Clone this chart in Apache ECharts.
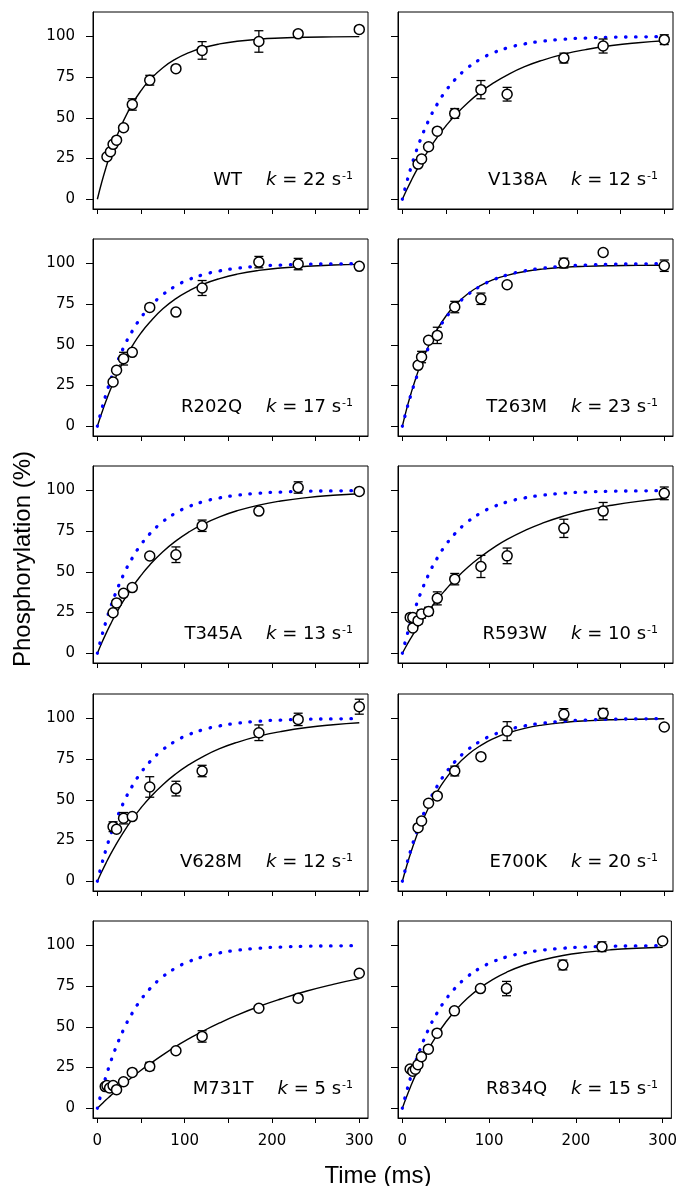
<!DOCTYPE html>
<html><head><meta charset="utf-8">
<script src="https://cdn.jsdelivr.net/npm/echarts@6/dist/echarts.min.js"></script>
<style>html,body{margin:0;padding:0;background:#fff}#c{width:680px;height:1186px}</style>
</head><body><div id="c"></div>
<script>
// ---------- data ----------
const panelNames = ['WT','V138A','R202Q','T263M','T345A','R593W','V628M','E700K','M731T','R834Q'];
const kValues = [22,12,17,23,13,10,12,20,5,15];
const xTicks = [0,50,100,150,200,250,300];
const xTickLabels = [0,100,200,300];
const yTicks = [0,25,50,75,100];

// fitted curves, at these times (ms)
const fitTime = [0,5,10,15,20,30,40,50,60,75,90,105,120,140,160,185,210,240,270,300];
const wtFit    = [0,10.4,19.7,28.1,35.6,48.3,58.5,66.7,73.3,80.8,86.2,90.1,92.9,95.4,97.0,98.3,99.0,99.5,99.7,99.9];
const v138aFit = [0,5.8,11.3,16.5,21.3,30.2,38.1,45.1,51.3,59.3,66.0,71.6,76.3,81.4,85.3,89.1,91.9,94.4,96.1,97.3];
const r202qFit = [0,8.1,15.6,22.5,28.8,40.0,49.3,57.3,63.9,72.1,78.4,83.2,87.0,90.7,93.4,95.7,97.2,98.3,99.0,99.4];
const t263mFit = [0,10.8,20.3,28.9,36.5,49.3,59.5,67.7,74.1,81.4,86.5,90.2,92.7,95.0,96.5,97.6,98.2,98.6,98.8,98.9];
const t345aFit = [0,6.3,12.2,17.7,22.9,32.3,40.6,47.8,54.2,62.3,69.0,74.5,79.0,83.8,87.5,91.0,93.5,95.6,97.0,98.0];
const r593wFit = [0,4.9,9.5,13.9,18.1,25.9,33.0,39.3,45.1,52.8,59.3,65.0,69.9,75.3,79.8,84.3,87.8,90.9,93.3,95.0];
const v628mFit = [0,5.8,11.3,16.5,21.3,30.2,38.1,45.1,51.3,59.3,66.0,71.6,76.3,81.4,85.3,89.1,91.9,94.4,96.1,97.3];
const e700kFit = [0,9.5,18.1,25.9,33.0,45.1,55.1,63.2,69.9,77.7,83.5,87.8,90.9,93.9,95.9,97.5,98.5,99.2,99.5,99.8];
const m731tFit = [0,2.6,5.2,7.6,10.0,14.7,19.1,23.3,27.2,32.8,38.0,42.7,47.1,52.4,57.2,62.5,67.1,72.0,76.1,79.6];
const r834qFit = [0,7.2,13.9,20.2,25.9,36.2,45.1,52.8,59.3,67.5,74.1,79.3,83.5,87.8,90.9,93.8,95.7,97.3,98.3,98.9];

// measured points: time (ms), phosphorylation (%), error (half bar)
const wtTime = [11,15,18,22,30,40,60,90,120,185,230,300];
const wtPct  = [26.1,29.2,33.7,36.3,43.9,58.2,73.1,80.2,91.4,96.9,101.6,104.3];
const wtErr  = [1,1,1,1,1.5,3.5,3,1,5.4,6.6,2,1.5];

const v138aTime = [18,22,30,40,60,90,120,185,230,300];
const v138aPct  = [21.6,24.7,32.2,41.8,52.7,67.3,64.5,86.7,94.1,98.0];
const v138aErr  = [1.5,1.5,1.5,1.5,3,5.6,4.2,3,4.3,3];

const r202qTime = [18,22,30,40,60,90,120,185,230,300];
const r202qPct  = [27.2,34.4,41.5,45.4,73.0,70.1,84.9,100.8,99.6,98.2];
const r202qErr  = [1,1.5,3.9,1,1,1,4.6,3.5,3.5,1];

const t263mTime = [18,22,30,40,60,90,120,185,230,300];
const t263mPct  = [37.4,42.5,52.8,55.8,73.2,78.3,86.9,100.2,106.7,98.6];
const t263mErr  = [1.5,3.5,1.5,5,3.5,3.5,1,3,1,3.5];

const t345aTime = [18,22,30,40,60,90,120,185,230,300];
const t345aPct  = [24.9,30.9,36.8,40.3,59.7,60.5,78.3,87.3,101.8,99.4];
const t345aErr  = [1,1.5,1,1,1.5,4.8,3.5,1.5,3.5,1];

const r593wTime = [9,12,12,18,22,30,40,60,90,120,185,230,300];
const r593wPct  = [22,22,15.5,20,24.1,25.7,33.7,45.5,53.3,59.8,76.7,87.3,98.2];
const r593wErr  = [1,1,1,2,2.5,2.5,4,3.5,6.8,4.8,5.6,5.3,3.9];

const v628mTime = [18,22,30,40,60,90,120,185,230,300];
const v628mPct  = [33.5,31.9,38.7,39.7,57.9,56.9,67.7,91.2,99.4,107.2];
const v628mErr  = [3,1,3.5,1,6.3,4.5,3.5,4.8,3.8,4.6];

const e700kTime = [18,22,30,40,60,90,120,185,230,300];
const e700kPct  = [32.9,37,47.9,52.4,67.7,76.5,92.2,102.5,103.1,94.7];
const e700kErr  = [1,1,1,1,3,1,5.8,3.5,3,1];

const m731tTime = [9,11,14,18,22,30,40,60,90,120,185,230,300];
const m731tPct  = [13.3,13.9,12.4,13.9,11.4,16.3,22,25.7,35.3,44.1,61.4,67.6,82.9];
const m731tErr  = [1,1,1,1,1,1,1,2.5,1,3.5,1,2,1];

const r834qTime = [9,12,15,18,22,30,40,60,90,120,185,230,300];
const r834qPct  = [24.1,22.7,24,26.7,31.6,36.3,46.1,59.8,73.5,73.5,88,99.2,102.7];
const r834qErr  = [1,1,1,1,1,1,1,1,1,4.4,3,3,1];

// ---------- build ----------
const fits  = [wtFit,v138aFit,r202qFit,t263mFit,t345aFit,r593wFit,v628mFit,e700kFit,m731tFit,r834qFit];
const times = [wtTime,v138aTime,r202qTime,t263mTime,t345aTime,r593wTime,v628mTime,e700kTime,m731tTime,r834qTime];
const pcts  = [wtPct,v138aPct,r202qPct,t263mPct,t345aPct,r593wPct,v628mPct,e700kPct,m731tPct,r834qPct];
const errs  = [wtErr,v138aErr,r202qErr,t263mErr,t345aErr,r593wErr,v628mErr,e700kErr,m731tErr,r834qErr];

const colLeft = [93, 398];
const boxW = 275, boxH = 197;
const rowTop = [12, 239, 466, 694, 921];
const FONT_TICK = 'DejaVu Sans';

const grids = [], xAxes = [], yAxes = [], series = [], titles = [];

function errRender(params, api) {
  const x = api.value(0), y = api.value(1), e = api.value(2);
  const a = api.coord([x, y + e]);
  const b = api.coord([x, y - e]);
  const hw = 4.5;
  const st = {stroke: '#000', lineWidth: 1.3, fill: null};
  return {type: 'group', children: [
    {type: 'line', shape: {x1: a[0], y1: a[1], x2: b[0], y2: b[1]}, style: st},
    {type: 'line', shape: {x1: a[0] - hw, y1: a[1], x2: a[0] + hw, y2: a[1]}, style: st},
    {type: 'line', shape: {x1: b[0] - hw, y1: b[1], x2: b[0] + hw, y2: b[1]}, style: st}
  ]};
}

panelNames.forEach((name, i) => {
  const row = Math.floor(i / 2), col = i % 2;
  grids.push({left: colLeft[col], top: rowTop[row], width: boxW, height: boxH,
    show: true, borderColor: '#000', borderWidth: 1, backgroundColor: 'transparent', containLabel: false});
  xAxes.push({gridIndex: i, type: 'value', min: -5, max: 310,
    axisLine: {show: true, onZero: false, lineStyle: {color: '#000', width: 1}},
    axisTick: {show: true, customValues: xTicks, length: 5, lineStyle: {color: '#000', width: 1}},
    axisLabel: {show: row === 4, customValues: xTickLabels, margin: 16, color: '#000', fontFamily: FONT_TICK, fontSize: 15},
    splitLine: {show: false}});
  yAxes.push({gridIndex: i, type: 'value', min: -6, max: 115,
    axisLine: {show: true, onZero: false, lineStyle: {color: '#000', width: 1}},
    axisTick: {show: true, customValues: yTicks, length: 7, lineStyle: {color: '#000', width: 1}},
    axisLabel: {show: col === 0, customValues: yTicks, margin: 18, color: '#000', fontFamily: FONT_TICK, fontSize: 15},
    splitLine: {show: false}});

  if (i !== 0) {
    series.push({type: 'line', xAxisIndex: i, yAxisIndex: i, z: 3,
      data: fitTime.map((t, j) => [t, wtFit[j]]),
      showSymbol: false, symbol: 'none', smooth: 0.5,
      lineStyle: {color: '#0000ff', width: 3.3, type: [0.5, 9.6], cap: 'round'}});
  }
  series.push({type: 'line', xAxisIndex: i, yAxisIndex: i, z: 2,
    data: fitTime.map((t, j) => [t, fits[i][j]]),
    showSymbol: false, symbol: 'none', smooth: 0.5,
    lineStyle: {color: '#000', width: 1.4}});
  series.push({type: 'custom', xAxisIndex: i, yAxisIndex: i, z: 4,
    renderItem: errRender, encode: {x: 0, y: 1},
    data: times[i].map((t, j) => [t, pcts[i][j], errs[i][j]])});
  series.push({type: 'scatter', xAxisIndex: i, yAxisIndex: i, z: 5,
    data: times[i].map((t, j) => [t, pcts[i][j]]),
    symbol: 'circle', symbolSize: 10,
    itemStyle: {color: '#fff', borderColor: '#000', borderWidth: 1.5, opacity: 1}});

  const boxRight = colLeft[col] + boxW;
  const centerY = rowTop[row] + boxH - 29;
  titles.push({
    text: '{n|' + name + '}{g| }{k|k}{n| = ' + kValues[i] + ' s}{s|-1}',
    right: 680 - (boxRight - 15), top: centerY - 11, padding: 0,
    textStyle: {fontWeight: 'normal', rich: {
      n: {fontFamily: FONT_TICK, fontWeight: 'normal', fontSize: 18, color: '#000', lineHeight: 22},
      g: {width: 24, lineHeight: 22, fontSize: 18, fontWeight: 'normal'},
      k: {fontFamily: FONT_TICK, fontWeight: 'normal', fontStyle: 'italic', fontSize: 18, color: '#000', lineHeight: 22},
      s: {fontFamily: FONT_TICK, fontWeight: 'normal', fontSize: 11, color: '#000', lineHeight: 12, verticalAlign: 'top', padding: [2, 0, 0, 1]}
    }}
  });
});

const chart = echarts.init(document.getElementById('c'), null, {renderer: 'canvas'});
chart.setOption({
  animation: false,
  backgroundColor: '#fff',
  title: titles,
  grid: grids, xAxis: xAxes, yAxis: yAxes, series: series,
  graphic: [
    {type: 'text', x: 23, y: 559, rotation: Math.PI / 2,
      style: {text: 'Phosphorylation (%)', font: '24px "Liberation Sans", Arial, sans-serif', fill: '#000', align: 'center', verticalAlign: 'middle'}},
    {type: 'text', x: 378, y: 1176,
      style: {text: 'Time (ms)', font: '24px "Liberation Sans", Arial, sans-serif', fill: '#000', align: 'center', verticalAlign: 'middle'}}
  ]
});
</script></body></html>
